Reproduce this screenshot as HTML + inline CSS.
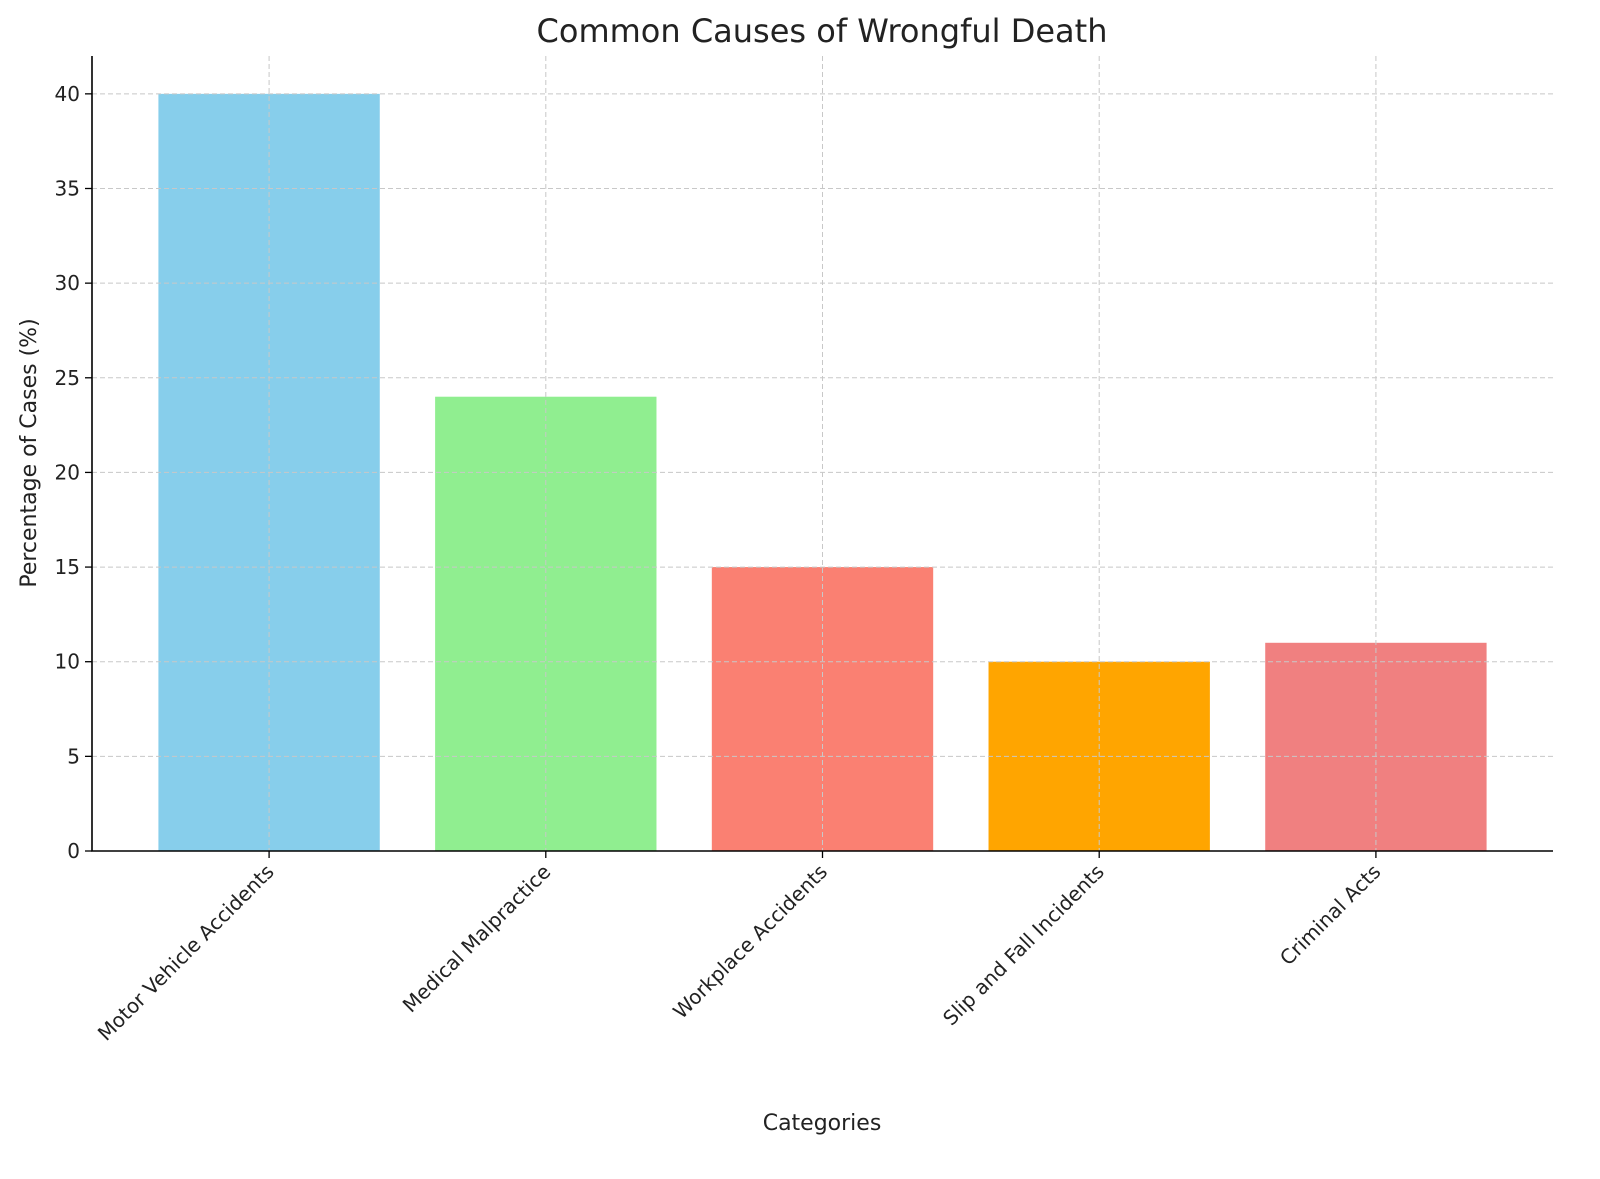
<!DOCTYPE html>
<html><head><meta charset="utf-8"><style>
html,body{margin:0;padding:0;background:#fff;}
svg text{font-family:"DejaVu Sans","Liberation Sans",sans-serif;fill:#222;}
</style></head><body>
<svg id="chart" width="1600" height="1174" viewBox="0 0 1600 1174" xmlns="http://www.w3.org/2000/svg">
<text x="822" y="42" font-size="32" text-anchor="middle">Common Causes of Wrongful Death</text>
<g id="grid"></g>
<g id="bars"></g>
<g id="axes"></g>
<text x="822" y="1130" font-size="22" text-anchor="middle">Categories</text>
<text transform="translate(36,453) rotate(-90)" font-size="22" text-anchor="middle">Percentage of Cases (%)</text>
</svg>
<script>
const categories = ["Motor Vehicle Accidents","Medical Malpractice","Workplace Accidents","Slip and Fall Incidents","Criminal Acts"];
const values = [40, 24, 15, 10, 11];
const colors = ["#87CEEB","#90EE90","#FA8072","#FFA500","#F08080"];
const yTicks = [0,5,10,15,20,25,30,35,40];

const NS="http://www.w3.org/2000/svg";
const L=92,R=1553,T=56,B=851;
const yMax=Math.max(...values)*1.05;
const xMin=-0.64,xMax=categories.length-1+0.64;
const sx=v=>L+(v-xMin)/(xMax-xMin)*(R-L);
const sy=v=>B-v/yMax*(B-T);
const bw=0.8*(R-L)/(xMax-xMin);
function mk(tag,attrs,parent){const e=document.createElementNS(NS,tag);for(const k in attrs)e.setAttribute(k,attrs[k]);parent.appendChild(e);return e;}
const grid=document.getElementById('grid'),bars=document.getElementById('bars'),axes=document.getElementById('axes');
yTicks.forEach(t=>{
  const g=mk('line',{x1:L,x2:R,y1:sy(t),y2:sy(t),stroke:'#c8c8c8','stroke-width':1,'stroke-dasharray':'5,3'},grid);
  
  
  const tk=mk('line',{x1:L-7,x2:L,y1:sy(t),y2:sy(t),stroke:'#000','stroke-width':1.3},axes);
  
  
  const tx=mk('text',{x:L-12,y:sy(t)+7,'font-size':20,'text-anchor':'end'},axes);
  tx.textContent=t;
  
  
});
categories.forEach((c,i)=>{
  const x=sx(i);
  const r=mk('rect',{x:x-bw/2,y:sy(values[i]),width:bw,height:B-sy(values[i]),fill:colors[i]},bars);
  
  
  const g=mk('line',{x1:x,x2:x,y1:T,y2:B,stroke:'#c8c8c8','stroke-width':1,'stroke-dasharray':'5,3'},grid);
  
  
  const tk=mk('line',{x1:x,x2:x,y1:B,y2:B+7,stroke:'#000','stroke-width':1.3},axes);
  
  
  const tx=mk('text',{transform:`translate(${x+6},${B+22}) rotate(-45)`,'font-size':20,'text-anchor':'end'},axes);
  tx.textContent=c;
  
  
});
// grid above bars like matplotlib? grid drawn behind in reference appears over bars; move grid after bars
document.getElementById('chart').insertBefore(bars,grid);
const ax=mk('path',{d:`M${L},${T} L${L},${B} L${R},${B}`,fill:'none',stroke:'#000','stroke-width':1.6},axes);


</script>
</body></html>
